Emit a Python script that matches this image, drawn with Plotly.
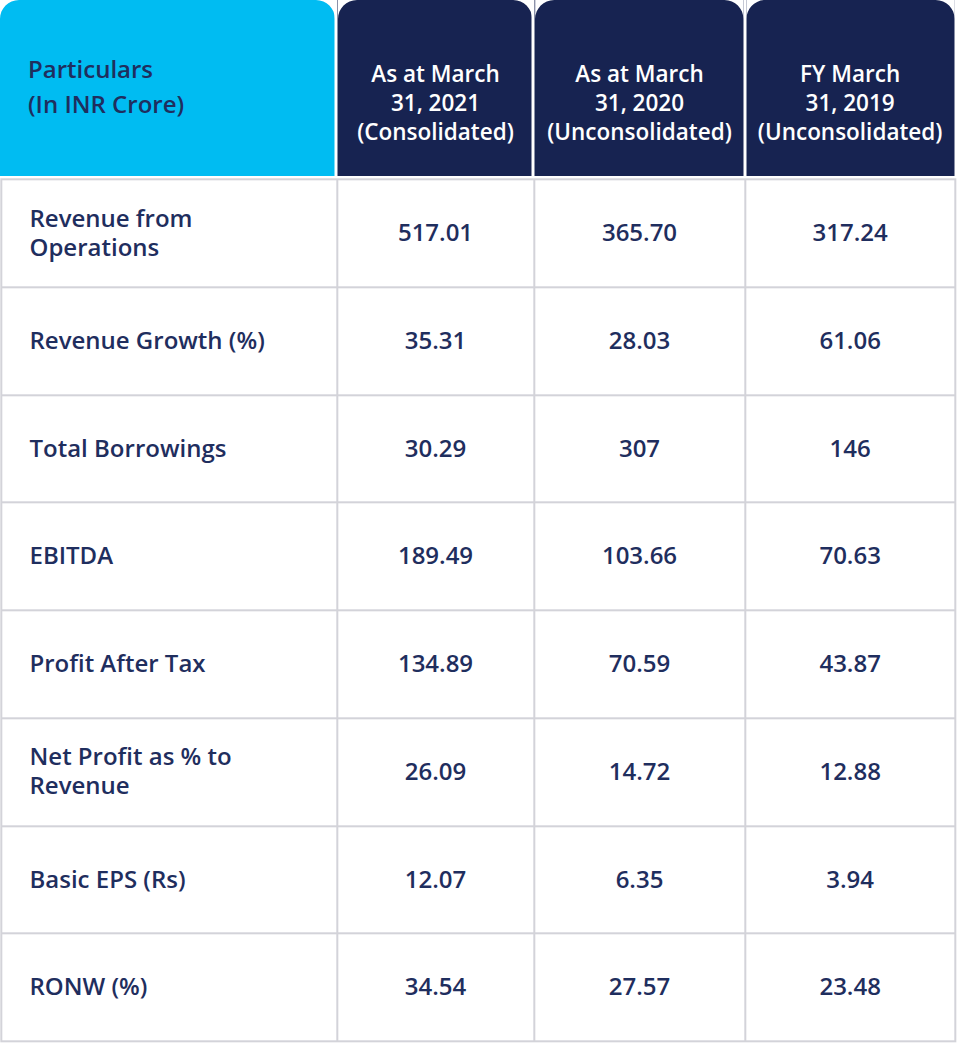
import plotly.graph_objects as go

# ---------------- data ----------------
header_labels = [
    "Particulars<br>(In INR Crore)",
    "As at March<br>31, 2021<br>(Consolidated)",
    "As at March<br>31, 2020<br>(Unconsolidated)",
    "FY March<br>31, 2019<br>(Unconsolidated)",
]
particulars = [
    "Revenue from<br>Operations",
    "Revenue Growth (%)",
    "Total Borrowings",
    "EBITDA",
    "Profit After Tax",
    "Net Profit as % to<br>Revenue",
    "Basic EPS (Rs)",
    "RONW (%)",
]
fy2021 = [517.01, 35.31, 30.29, 189.49, 134.89, 26.09, 12.07, 34.54]
fy2020 = [365.70, 28.03, 307, 103.66, 70.59, 14.72, 6.35, 27.57]
fy2019 = [317.24, 61.06, 146, 70.63, 43.87, 12.88, 3.94, 23.48]

# ---------------- style / layout ----------------
W, H = 957, 1043
CYAN = "#00BCF2"
NAVY = "#172351"
TEXT = "#1F2E5E"
GRID = "#D3D3D9"
FONT = "Open Sans"
FS_BODY = 24
FS_HEAD_L = 24
FS_HEAD_R = 22.5

head_edges_x = [-1.5, 336.5, 533.7, 745.0, 956.2]
head_edges_y = [-2, 176]
body_edges_x = [1.3, 337.0, 534.0, 745.0, 955.3]
n_rows = len(particulars)
body_top, body_bot = 179.3, 1041.3
row_edges = [body_top + (body_bot - body_top) * i / n_rows for i in range(n_rows + 1)]
radius = 19


def fmt(v):
    return str(v) if isinstance(v, int) else f"{v:.2f}"


def lines_at(labels, xs, ys, lh):
    """Split multi-line labels into single lines placed around a centre."""
    px, py, pt = [], [], []
    for lab, x, y in zip(labels, xs, ys):
        parts = lab.split("<br>")
        n = len(parts)
        for j, p in enumerate(parts):
            px.append(x)
            py.append(y + (j - (n - 1) / 2) * lh)
            pt.append(p)
    return px, py, pt


fig = go.Figure()

# grey background (shows through as grid lines)
fig.add_trace(go.Heatmap(
    z=[[0]], x=[body_edges_x[0] - 1, body_edges_x[-1] + 1],
    y=[row_edges[0] - 1, row_edges[-1] + 1],
    colorscale=[[0, GRID], [1, GRID]], showscale=False, hoverinfo="skip"))

# body cells
fig.add_trace(go.Heatmap(
    z=[[0] * 4 for _ in range(n_rows)], x=body_edges_x, y=row_edges,
    colorscale=[[0, "white"], [1, "white"]], showscale=False,
    xgap=2, ygap=2, hoverinfo="skip"))

# header cells
fig.add_trace(go.Heatmap(
    z=[[0, 1, 1, 1]], x=head_edges_x, y=head_edges_y,
    colorscale=[[0, CYAN], [1, NAVY]], zmin=0, zmax=1, showscale=False,
    xgap=3, ygap=0, hoverinfo="skip"))

# rounded top corners of header cells (white masks)
k = 0.448 * radius
for i in range(4):
    x0 = max(head_edges_x[i] + 1.5, 0)
    x1 = min(head_edges_x[i + 1] - 1.5, 955)
    fig.add_shape(type="path", xref="x", yref="y", layer="above",
                  path=f"M {x0},0 L {x0 + radius},0 C {x0 + k},0 {x0},{k} {x0},{radius} Z",
                  fillcolor="white", line=dict(width=0))
    fig.add_shape(type="path", xref="x", yref="y", layer="above",
                  path=f"M {x1},0 L {x1 - radius},0 C {x1 - k},0 {x1},{k} {x1},{radius} Z",
                  fillcolor="white", line=dict(width=0))

centers_x = [(body_edges_x[i] + body_edges_x[i + 1]) / 2 for i in range(4)]
row_centers = [(row_edges[i] + row_edges[i + 1]) / 2 + 2 for i in range(n_rows)]

# header texts
hx, hy, ht = lines_at(header_labels[:1], [28], [89.5], 34.5)
fig.add_trace(go.Scatter(
    x=hx, y=hy, mode="text", text=ht,
    textposition="middle right", marker=dict(size=0),
    textfont=dict(family=FONT, size=FS_HEAD_L, color=TEXT, weight=600),
    hoverinfo="skip", cliponaxis=False))
hx, hy, ht = lines_at(header_labels[1:], centers_x[1:], [105.5] * 3, 29)
fig.add_trace(go.Scatter(
    x=hx, y=hy, mode="text", text=ht,
    textposition="middle center",
    textfont=dict(family=FONT, size=FS_HEAD_R, color="white", weight=600),
    hoverinfo="skip", cliponaxis=False))

# body texts
bx, by, bt = lines_at(particulars, [29.5] * n_rows, row_centers, 29)
fig.add_trace(go.Scatter(
    x=bx, y=by, mode="text", text=bt,
    textposition="middle right", marker=dict(size=0),
    textfont=dict(family=FONT, size=FS_BODY, color=TEXT, weight=600),
    hoverinfo="skip", cliponaxis=False))
for ci, col in enumerate([fy2021, fy2020, fy2019]):
    fig.add_trace(go.Scatter(
        x=[centers_x[ci + 1]] * n_rows, y=row_centers, mode="text",
        text=[fmt(v) for v in col], textposition="middle center",
        textfont=dict(family=FONT, size=FS_BODY, color=TEXT, weight=600),
        hoverinfo="skip", cliponaxis=False))

fig.update_layout(
    width=W, height=H, margin=dict(l=0, r=0, t=0, b=0),
    paper_bgcolor="white", plot_bgcolor="white", showlegend=False,
    xaxis=dict(range=[0, W], visible=False, fixedrange=True),
    yaxis=dict(range=[H, 0], visible=False, fixedrange=True),
)

fig.write_html("out.html", config={"displayModeBar": False},
               post_script="document.body.style.margin='0';")
